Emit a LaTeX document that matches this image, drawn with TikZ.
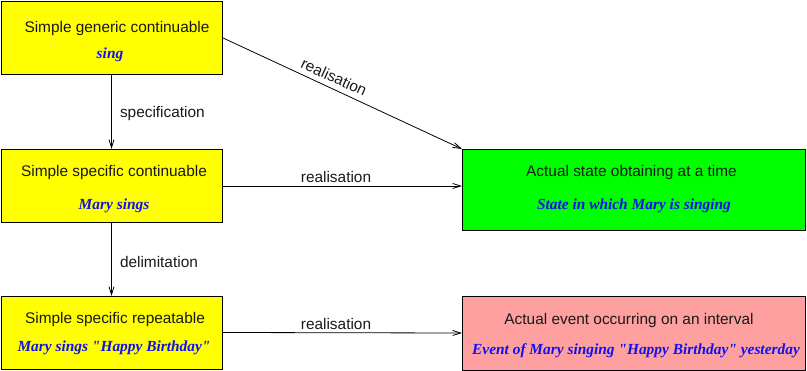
\documentclass[tikz,border=0pt]{standalone}
\usepackage{fontspec}
\setmainfont{Liberation Sans}
\newfontfamily\exfont{Liberation Serif}
\usetikzlibrary{arrows.meta}
\definecolor{boxyellow}{HTML}{FFFF00}
\definecolor{boxgreen}{HTML}{00FF00}
\definecolor{boxpink}{HTML}{FFA0A0}
\definecolor{exblue}{HTML}{1010F0}
\begin{document}
\begin{tikzpicture}[x=1pt,y=-1pt,
  every node/.style={inner sep=0pt,outer sep=0pt},
  kindbox/.style={draw=black,line width=0.9pt,rectangle,minimum width=#1},
  kindtext/.style={font=\fontsize{15.4}{18}\selectfont,text=black!90},
  extext/.style={font=\exfont\bfseries\itshape\fontsize{15.4}{18}\selectfont,text=exblue},
  linklabel/.style={font=\fontsize{15.4}{18}\selectfont,text=black!90},
  link/.style={line width=0.8pt,-{Straight Barb[length=8pt,width=5pt]}}]
\useasboundingbox (0,0) rectangle (807,371);

% categories on the left
\node[kindbox=221pt,minimum height=73pt,fill=boxyellow] (A) at (111.5,37.5) {};
\node[kindbox=221pt,minimum height=73pt,fill=boxyellow] (B) at (111.5,185.5) {};
\node[kindbox=221pt,minimum height=73pt,fill=boxyellow] (C) at (111.5,332.5) {};
% realisations on the right
\node[kindbox=343pt,minimum height=81pt,fill=boxgreen] (D) at (633.5,189.5) {};
\node[kindbox=343pt,minimum height=74pt,fill=boxpink] (E) at (633.5,333) {};

% box texts
\node[kindtext] (At) at (117,28.5) {Simple generic continuable};
\node[extext] (Ax) at (110,54.5) {sing};
\node[kindtext] (Bt) at (114,172.5) {Simple specific continuable};
\node[extext] (Bx) at (114,205.5) {Mary sings};
\node[kindtext] (Ct) at (115,319.5) {Simple specific repeatable};
\node[extext] (Cx) at (114,347.5) {Mary sings "Happy Birthday"};
\node[kindtext] (Dt) at (631.5,172.5) {Actual state obtaining at a time};
\node[extext] (Dx) at (634,205.5) {State in which Mary is singing};
\node[kindtext] (Et) at (629,320.5) {Actual event occurring on an interval};
\node[extext] (Ex) at (636,350.5) {Event of Mary singing "Happy Birthday" yesterday};

% connectors
\draw[link] (A.south) -- (B.north);
\draw[link] (B.south) -- (C.north);
\draw[link] (B.east |- 0,186) -- (D.west |- 0,186);
\draw[link] (C.east) -- (E.west);
\draw[link] (A.east) -- (D.north west);

% connector labels
\node[linklabel,anchor=west] (Lspec) at (120,113.5) {specification};
\node[linklabel,anchor=west] (Ldelim) at (120,261.5) {delimitation};
\node[linklabel] (Lreal1) at (336,176.5) {realisation};
\node[linklabel] (Lreal2) at (336,323.5) {realisation};
\node[linklabel,rotate=-24.4] (Lreal0) at (334,77) {realisation};
\end{tikzpicture}
\end{document}
